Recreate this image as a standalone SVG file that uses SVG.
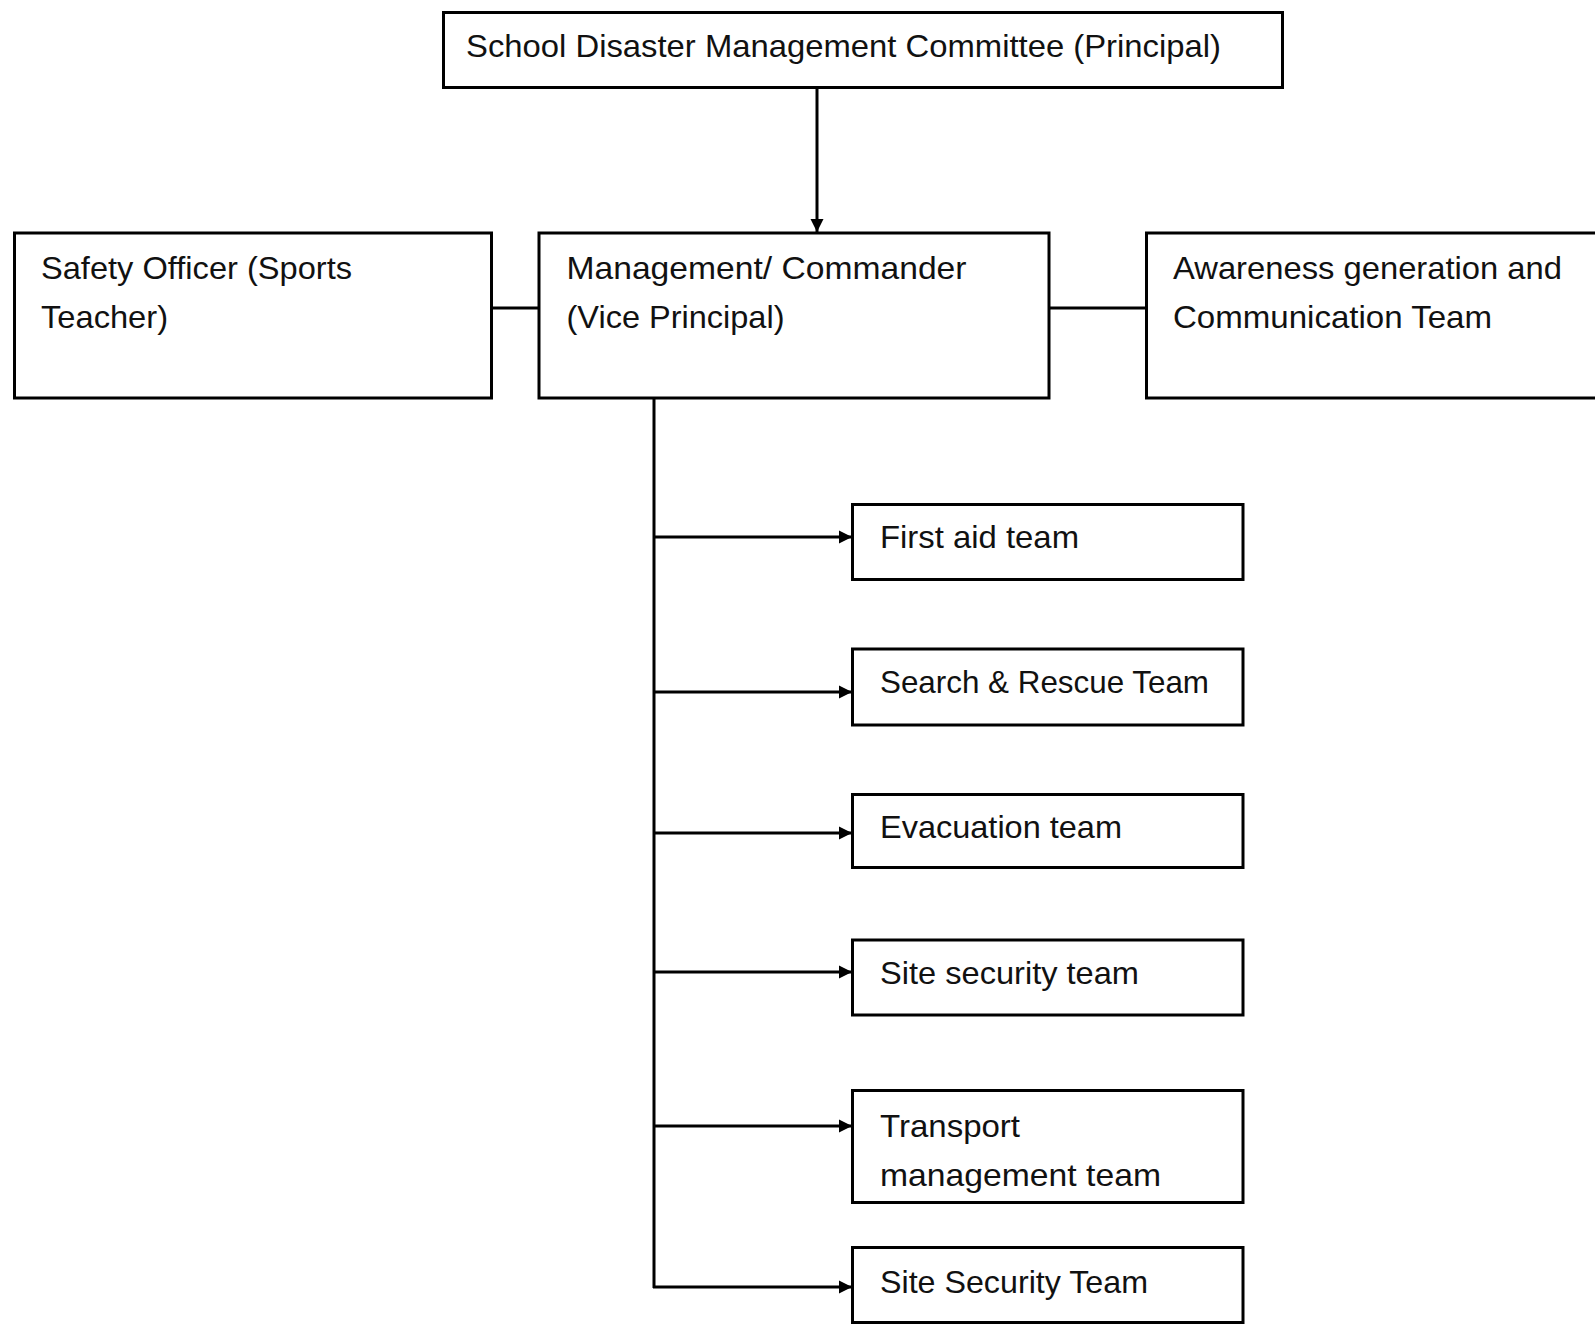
<svg xmlns="http://www.w3.org/2000/svg" width="1595" height="1326" viewBox="0 0 1595 1326">
<defs>
<style>
.box{fill:#fff;stroke:#000;stroke-width:3}
.lbl{font-family:"Liberation Sans",Arial,sans-serif;font-size:32px;fill:#111}
.con{fill:none;stroke:#000;stroke-width:3}
</style>
<marker id="arr" markerUnits="userSpaceOnUse" markerWidth="14" markerHeight="14" refX="13" refY="7" orient="auto">
<path d="M0,0.5 L13,7 L0,13.5 z" fill="#000"/>
</marker>
</defs>
<rect width="1595" height="1326" fill="#fff"/>
<g id="connectors">
<line class="con" x1="817" y1="88" x2="817" y2="232" marker-end="url(#arr)"/>
<line class="con" x1="491" y1="308" x2="539" y2="308"/>
<line class="con" x1="1049" y1="308" x2="1146" y2="308"/>
<line class="con" x1="654" y1="398" x2="654" y2="1288"/>
<line class="con" x1="653" y1="537" x2="852" y2="537" marker-end="url(#arr)"/>
<line class="con" x1="653" y1="692" x2="852" y2="692" marker-end="url(#arr)"/>
<line class="con" x1="653" y1="833" x2="852" y2="833" marker-end="url(#arr)"/>
<line class="con" x1="653" y1="972" x2="852" y2="972" marker-end="url(#arr)"/>
<line class="con" x1="653" y1="1126" x2="852" y2="1126" marker-end="url(#arr)"/>
<line class="con" x1="653" y1="1287" x2="852" y2="1287" marker-end="url(#arr)"/>
</g>
<g id="committee">
<rect class="box" x="443.5" y="12.5" width="839" height="75"/>
<text class="lbl" x="466" y="57" textLength="755" lengthAdjust="spacingAndGlyphs">School Disaster Management Committee (Principal)</text>
</g>
<g id="safety-officer">
<rect class="box" x="14.5" y="233" width="477" height="165"/>
<text class="lbl" x="41" y="278.5" textLength="311" lengthAdjust="spacingAndGlyphs">Safety Officer (Sports</text>
<text class="lbl" x="41" y="327.5" textLength="127" lengthAdjust="spacingAndGlyphs">Teacher)</text>
</g>
<g id="commander">
<rect class="box" x="539" y="233" width="510" height="165"/>
<text class="lbl" x="566.5" y="278.5" textLength="400" lengthAdjust="spacingAndGlyphs">Management/ Commander</text>
<text class="lbl" x="566.5" y="327.5" textLength="218" lengthAdjust="spacingAndGlyphs">(Vice Principal)</text>
</g>
<g id="awareness">
<rect class="box" x="1146.5" y="233" width="460" height="165"/>
<text class="lbl" x="1173" y="278.5" textLength="389" lengthAdjust="spacingAndGlyphs">Awareness generation and</text>
<text class="lbl" x="1173" y="327.5" textLength="319" lengthAdjust="spacingAndGlyphs">Communication Team</text>
</g>
<g id="first-aid">
<rect class="box" x="852.5" y="504.5" width="390.5" height="75"/>
<text class="lbl" x="880" y="548" textLength="199" lengthAdjust="spacingAndGlyphs">First aid team</text>
</g>
<g id="search-rescue">
<rect class="box" x="852.5" y="649" width="390.5" height="76"/>
<text class="lbl" x="880" y="693" textLength="329" lengthAdjust="spacingAndGlyphs">Search &amp; Rescue Team</text>
</g>
<g id="evacuation">
<rect class="box" x="852.5" y="794.5" width="390.5" height="73"/>
<text class="lbl" x="880" y="838" textLength="242" lengthAdjust="spacingAndGlyphs">Evacuation team</text>
</g>
<g id="site-security-1">
<rect class="box" x="852.5" y="940" width="390.5" height="75"/>
<text class="lbl" x="880" y="984" textLength="259" lengthAdjust="spacingAndGlyphs">Site security team</text>
</g>
<g id="transport">
<rect class="box" x="852.5" y="1090.5" width="390.5" height="112"/>
<text class="lbl" x="880" y="1137" textLength="140" lengthAdjust="spacingAndGlyphs">Transport</text>
<text class="lbl" x="880" y="1186" textLength="281" lengthAdjust="spacingAndGlyphs">management team</text>
</g>
<g id="site-security-2">
<rect class="box" x="852.5" y="1247.5" width="390.5" height="75"/>
<text class="lbl" x="880" y="1293" textLength="268" lengthAdjust="spacingAndGlyphs">Site Security Team</text>
</g>
</svg>
